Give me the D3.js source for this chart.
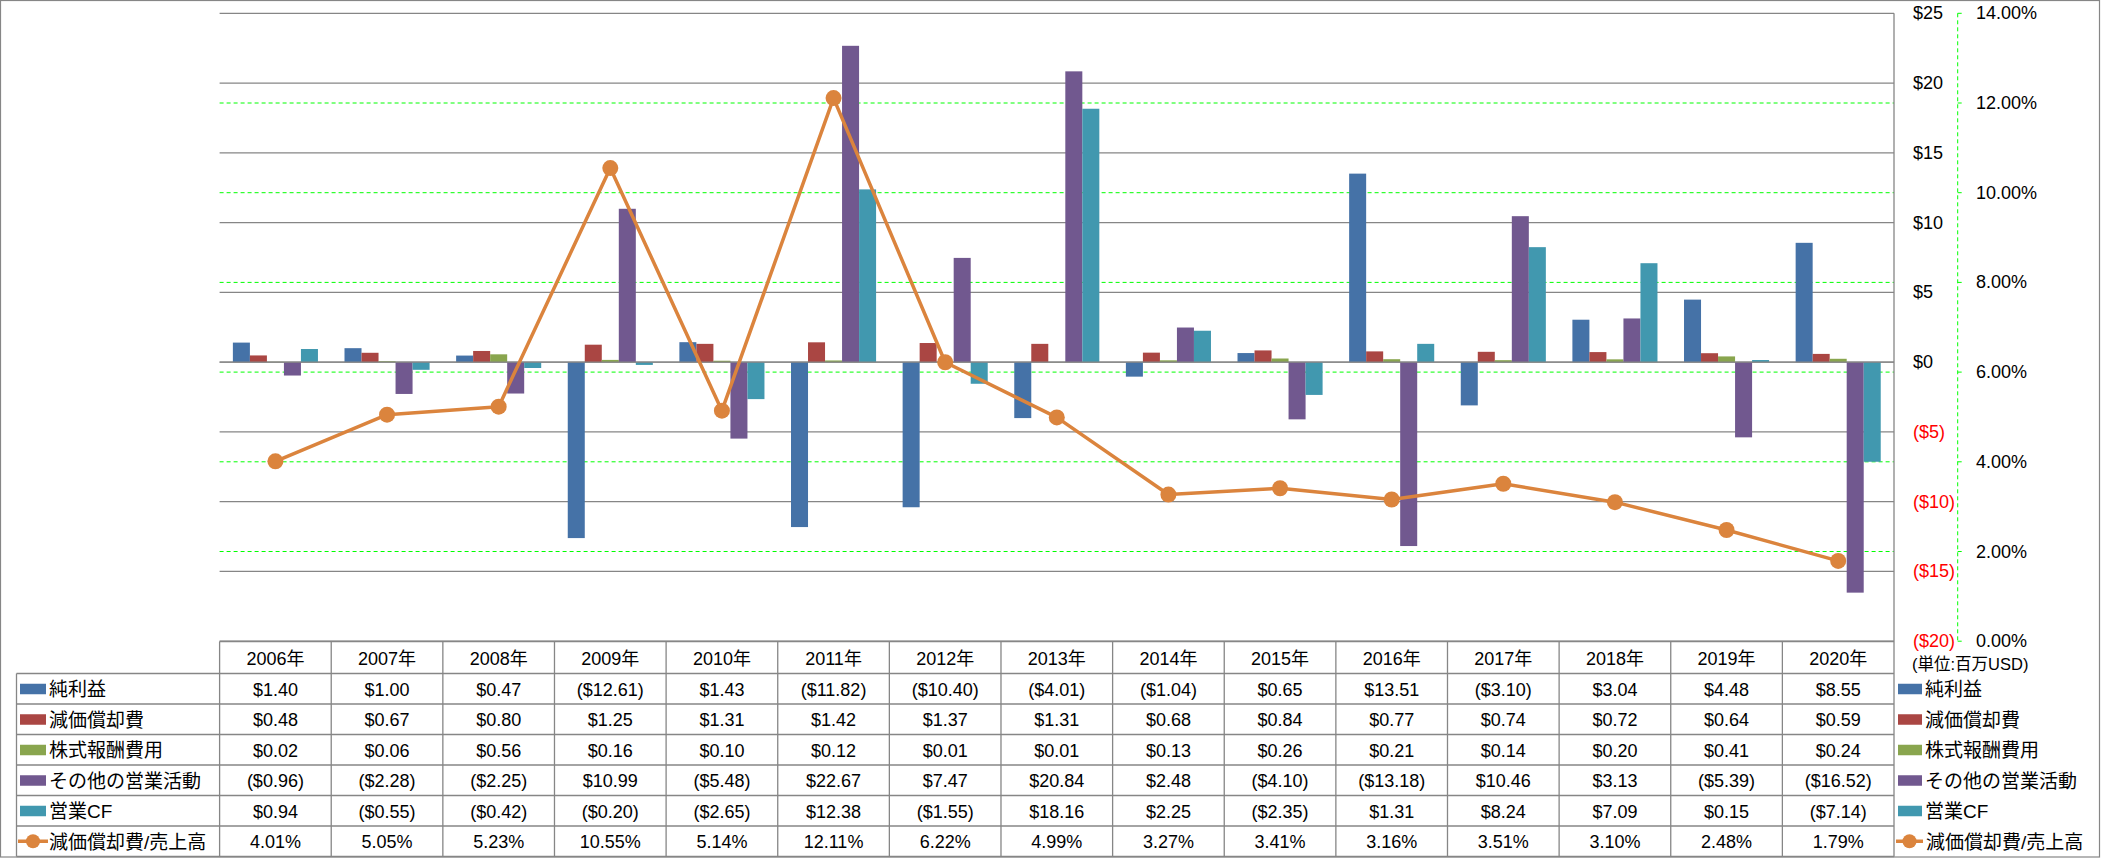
<!DOCTYPE html>
<html><head><meta charset="utf-8">
<script src="https://cdn.jsdelivr.net/npm/d3@7"></script>
<style>
body{margin:0;background:#fff;}
svg text{font-family:"Liberation Sans","Noto Sans CJK JP",sans-serif;fill:#000;}
</style></head><body>
<svg id="chart" width="2101" height="858"></svg>
<script>
const years = ["2006年","2007年","2008年","2009年","2010年","2011年","2012年","2013年","2014年","2015年","2016年","2017年","2018年","2019年","2020年"];
const netIncome = [1.40,1.00,0.47,-12.61,1.43,-11.82,-10.40,-4.01,-1.04,0.65,13.51,-3.10,3.04,4.48,8.55];
const depreciation = [0.48,0.67,0.80,1.25,1.31,1.42,1.37,1.31,0.68,0.84,0.77,0.74,0.72,0.64,0.59];
const stockComp = [0.02,0.06,0.56,0.16,0.10,0.12,0.01,0.01,0.13,0.26,0.21,0.14,0.20,0.41,0.24];
const otherOps = [-0.96,-2.28,-2.25,10.99,-5.48,22.67,7.47,20.84,2.48,-4.10,-13.18,10.46,3.13,-5.39,-16.52];
const operatingCF = [0.94,-0.55,-0.42,-0.20,-2.65,12.38,-1.55,18.16,2.25,-2.35,1.31,8.24,7.09,0.15,-7.14];
const deprRatio = [4.01,5.05,5.23,10.55,5.14,12.11,6.22,4.99,3.27,3.41,3.16,3.51,3.10,2.48,1.79];
const seriesNames = ["純利益","減価償却費","株式報酬費用","その他の営業活動","営業CF"];
const lineName = "減価償却費/売上高";
const leftTicks = [25,20,15,10,5,0,-5,-10,-15,-20];
const rightTicks = [14,12,10,8,6,4,2,0];
const unitLabel = "(単位:百万USD)";

const barSeries = [netIncome, depreciation, stockComp, otherOps, operatingCF];
const colors = ["#4572A7","#AA4643","#89A54E","#71588F","#4198AF"];
const lineColor = "#DB843D";
const gridColor = "#868686";
const green = "#00FF00";

const svg = d3.select("#chart");
const W = 2101, H = 858;
const plotL = 219.6, plotR = 1894, plotT = 13.3, plotB = 641.2;

const x = d3.scaleBand().domain(years).range([plotL, plotR]).paddingInner(0).paddingOuter(0);
const yL = d3.scaleLinear().domain([-20, 25]).range([plotB, plotT]);
const yR = d3.scaleLinear().domain([0, 14]).range([plotB, plotT]);
const cw = x.bandwidth();
const gapRatio = 1.56;
const xs = d3.scaleBand().domain(d3.range(5)).range([cw*gapRatio/2/(5+gapRatio), cw - cw*gapRatio/2/(5+gapRatio)]).padding(0);

// outer border
svg.append("rect").attr("x",0.5).attr("y",0.5).attr("width",W-2).attr("height",H-1.5)
  .attr("fill","#fff").attr("stroke","#868686").attr("stroke-width",1.2);

// gray gridlines (left axis)
svg.append("g").selectAll("line").data(leftTicks).join("line")
  .attr("x1",plotL).attr("x2",plotR)
  .attr("y1",d=>yL(d)).attr("y2",d=>yL(d))
  .attr("stroke",gridColor).attr("stroke-width",1.3);

// green dashed gridlines (right axis)
svg.append("g").selectAll("line").data(rightTicks.filter(d=>d>0 && d<14)).join("line")
  .attr("x1",plotL).attr("x2",plotR)
  .attr("y1",d=>yR(d)).attr("y2",d=>yR(d))
  .attr("stroke",green).attr("stroke-width",1).attr("stroke-dasharray","4,3");

// bars
const gBars = svg.append("g");
barSeries.forEach((s, si) => {
  gBars.selectAll(null).data(s).join("rect")
    .attr("x",(d,i)=>x(years[i]) + xs(si))
    .attr("width", xs.bandwidth())
    .attr("y", d=>yL(Math.max(0,d)))
    .attr("height", d=>Math.abs(yL(d)-yL(0)))
    .attr("fill", colors[si]);
});

// zero line over bars
svg.append("line").attr("x1",plotL).attr("x2",plotR).attr("y1",yL(0)).attr("y2",yL(0))
  .attr("stroke",gridColor).attr("stroke-width",1.3);

// right vertical border of plot/table
svg.append("line").attr("x1",plotR).attr("x2",plotR).attr("y1",plotT).attr("y2",856.7)
  .attr("stroke",gridColor).attr("stroke-width",1.3);

// line series
const line = d3.line().x((d,i)=>x(years[i])+cw/2).y(d=>yR(d));
svg.append("path").datum(deprRatio).attr("d",line).attr("fill","none")
  .attr("stroke",lineColor).attr("stroke-width",3.5).attr("stroke-linejoin","round");
svg.append("g").selectAll("circle").data(deprRatio).join("circle")
  .attr("cx",(d,i)=>x(years[i])+cw/2).attr("cy",d=>yR(d)).attr("r",8)
  .attr("fill",lineColor);

// left-value axis labels (placed at right)
const fmtMoney = v => v < 0 ? "($" + Math.abs(v) + ")" : "$" + v;
svg.append("g").selectAll("text").data(leftTicks).join("text")
  .attr("x",1913).attr("y",d=>yL(d)).attr("dominant-baseline","central")
  .attr("font-size",18).style("fill",d=>d<0?"#FF0000":"#000")
  .text(fmtMoney);

// secondary axis
const axX = 1957.7;
svg.append("line").attr("x1",axX).attr("x2",axX).attr("y1",plotT).attr("y2",plotB)
  .attr("stroke",green).attr("stroke-width",1).attr("stroke-dasharray","4,3");
svg.append("g").selectAll("line").data(rightTicks).join("line")
  .attr("x1",axX).attr("x2",axX+4).attr("y1",d=>yR(d)).attr("y2",d=>yR(d))
  .attr("stroke",green).attr("stroke-width",1);
svg.append("g").selectAll("text").data(rightTicks).join("text")
  .attr("x",1976).attr("y",d=>yR(d)).attr("dominant-baseline","central")
  .attr("font-size",18).text(d=>d.toFixed(2)+"%");

svg.append("text").attr("x",1912).attr("y",664).attr("dominant-baseline","central")
  .attr("font-size",16.5).text(unitLabel);

// data table
const tableTop = 641.5, headerH = 32, rowH = 30.5, tableL = 16.5;
const rowY = i => tableTop + headerH + i*rowH;
const tableBottom = rowY(6);
const tg = svg.append("g");
tg.append("line").attr("x1",plotL).attr("x2",plotR).attr("y1",tableTop).attr("y2",tableTop)
  .attr("stroke",gridColor).attr("stroke-width",1.3);
tg.selectAll(null).data(d3.range(7)).join("line")
  .attr("x1",tableL).attr("x2",plotR).attr("y1",d=>rowY(d)).attr("y2",d=>rowY(d))
  .attr("stroke",gridColor).attr("stroke-width",1.3);
tg.selectAll(null).data(years).join("line")
  .attr("x1",d=>x(d)).attr("x2",d=>x(d)).attr("y1",tableTop).attr("y2",tableBottom)
  .attr("stroke",gridColor).attr("stroke-width",1.3);
tg.append("line").attr("x1",tableL).attr("x2",tableL).attr("y1",rowY(0)).attr("y2",tableBottom)
  .attr("stroke",gridColor).attr("stroke-width",1.3);

// header
tg.selectAll(null).data(years).join("text")
  .attr("x",d=>x(d)+cw/2).attr("y",tableTop+headerH/2+1).attr("text-anchor","middle")
  .attr("dominant-baseline","central").attr("font-size",18).text(d=>d);

const fmtVal = v => v < 0 ? "($" + Math.abs(v).toFixed(2) + ")" : "$" + v.toFixed(2);
const legFs = 19;
barSeries.forEach((s, si) => {
  const cy = rowY(si) + rowH/2;
  tg.selectAll(null).data(s).join("text")
    .attr("x",(d,i)=>x(years[i])+cw/2).attr("y",cy+1).attr("text-anchor","middle")
    .attr("dominant-baseline","central").attr("font-size",18).text(fmtVal);
  tg.append("rect").attr("x",20).attr("y",cy-5).attr("width",26).attr("height",10.5).attr("fill",colors[si]);
  tg.append("text").attr("x",49).attr("y",cy+1).attr("dominant-baseline","central")
    .attr("font-size",legFs).text(seriesNames[si]);
  tg.append("rect").attr("x",1898).attr("y",cy-5).attr("width",24).attr("height",10.5).attr("fill",colors[si]);
  tg.append("text").attr("x",1925).attr("y",cy+1).attr("dominant-baseline","central")
    .attr("font-size",legFs).text(seriesNames[si]);
});
{
  const cy = rowY(5) + rowH/2;
  tg.selectAll(null).data(deprRatio).join("text")
    .attr("x",(d,i)=>x(years[i])+cw/2).attr("y",cy+1).attr("text-anchor","middle")
    .attr("dominant-baseline","central").attr("font-size",18).text(d=>d.toFixed(2)+"%");
  tg.append("line").attr("x1",18).attr("x2",48).attr("y1",cy).attr("y2",cy).attr("stroke",lineColor).attr("stroke-width",3.5);
  tg.append("circle").attr("cx",33).attr("cy",cy).attr("r",7).attr("fill",lineColor);
  tg.append("text").attr("x",49).attr("y",cy+1).attr("dominant-baseline","central").attr("font-size",legFs).text(lineName);
  tg.append("line").attr("x1",1896).attr("x2",1923).attr("y1",cy).attr("y2",cy).attr("stroke",lineColor).attr("stroke-width",3.5);
  tg.append("circle").attr("cx",1909.5).attr("cy",cy).attr("r",7).attr("fill",lineColor);
  tg.append("text").attr("x",1926).attr("y",cy+1).attr("dominant-baseline","central").attr("font-size",legFs).text(lineName);
}
</script>
</body></html>
